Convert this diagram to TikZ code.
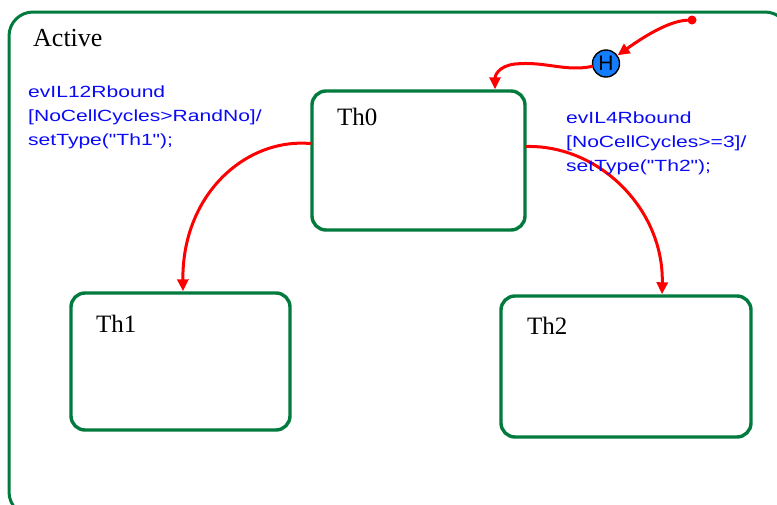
\documentclass[tikz,border=0pt]{standalone}
\usepackage{fontspec}
\setmainfont{Liberation Serif}
\newfontfamily\lbl[FakeStretch=1.3]{Liberation Sans}
\newfontfamily\hfont{Liberation Sans}
\usetikzlibrary{arrows.meta}
\definecolor{sgreen}{RGB}{0,122,61}
\definecolor{hblue}{RGB}{20,125,255}
\definecolor{gblue}{RGB}{10,10,245}
\tikzset{
  statebox/.style={draw=sgreen, line width=3.4pt, rounded corners=14pt, inner sep=0},
  statename/.style={font=\fontsize{25}{30}\selectfont, anchor=base west, inner sep=0},
  trans/.style={draw=red, line width=3pt, line cap=round,
    -{Triangle[length=12pt,width=11pt]}},
  guard/.style={text=gblue, font=\lbl\fontsize{16.2}{24}\selectfont, align=left,
    anchor=base west, inner sep=0},
}
\begin{document}
\begin{tikzpicture}[x=1pt,y=-1pt]
\useasboundingbox (0,0) rectangle (777,504);
\clip (0,0) rectangle (777,504);
% enclosing superstate
\draw[sgreen, line width=3pt, rounded corners=24pt] (9,12) rectangle (789,516);
\node[statename, font=\fontsize{26}{30}\selectfont] (active) at (33,46) {Active};
% substates
\node[statebox, minimum width=213pt, minimum height=139pt] (th0) at (418.5,160.5) {};
\node[statebox, minimum width=219pt, minimum height=137pt] (th1) at (180.5,361.5) {};
\node[statebox, minimum width=250pt, minimum height=141pt] (th2) at (626,366.5) {};
\node[statename] (th0l) at (337,125) {Th0};
\node[statename] (th1l) at (96,332) {Th1};
\node[statename] (th2l) at (527,334) {Th2};
% history connector and initial pseudostate
\node[circle, fill=hblue, draw=black, line width=1.4pt, minimum size=27pt, inner sep=0,
  font=\hfont\fontsize{21}{21}\selectfont] (h) at (606,63.5) {H};
\node[circle, fill=red, minimum size=9pt, inner sep=0] (dot) at (692,20) {};
% transitions
\draw[trans] (dot) .. controls (668,21) and (642,38) .. (h);
\draw[trans] (h) .. controls (565,72) and (545,61) .. (515,64)
  .. controls (498,66) and (495,76) .. ([xshift=76.5pt]th0.north);
\draw[trans] ([yshift=17pt]th0.west) .. controls (245,138) and (182,195) .. ([xshift=2.5pt]th1.north);
\draw[trans] ([yshift=14pt]th0.east) .. controls (600,145) and (664,210) .. ([xshift=36pt]th2.north);
% guard labels (base anchor sits on the last line)
\node[guard] (g1) at (28,145) {evIL12Rbound\\{}[NoCellCycles>RandNo]/\\setType("Th1");};
\node[guard] (g2) at (566,171) {evIL4Rbound\\{}[NoCellCycles>=3]/\\setType("Th2");};
\end{tikzpicture}
\end{document}
